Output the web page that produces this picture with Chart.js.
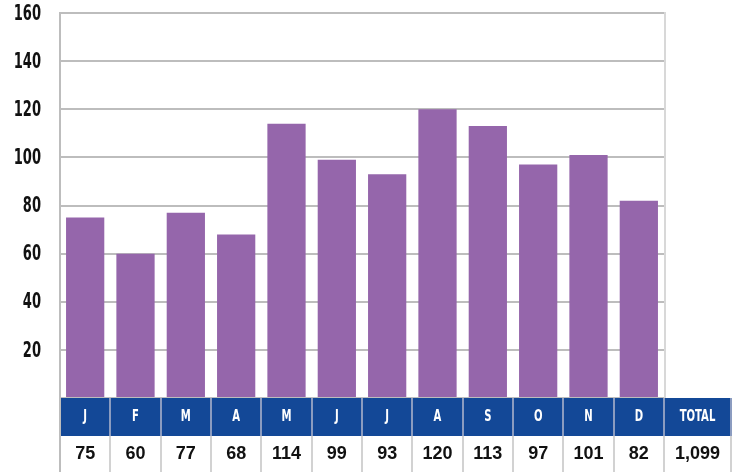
<!DOCTYPE html>
<html>
<head>
<meta charset="utf-8">
<script src="https://cdn.jsdelivr.net/npm/chart.js@4"></script>
<style>
  html, body { margin: 0; padding: 0; background: #fff; }
  #wrap { width: 733px; height: 472px; }
</style>
</head>
<body>
<div id="wrap"><canvas id="c" width="733" height="472"></canvas></div>
<script>
// Monthly counts
const months = ['J', 'F', 'M', 'A', 'M', 'J', 'J', 'A', 'S', 'O', 'N', 'D'];
const counts = [75, 60, 77, 68, 114, 99, 93, 120, 113, 97, 101, 82];
const totalLabel = 'TOTAL';
const yTicks = [20, 40, 60, 80, 100, 120, 140, 160];

const BAR = '#9566ab';
const BAND = '#134897';
const BAND_SEP = '#8b9cc0';
const ROW_SEP = '#d2d2d2';
const GRID = '#bdbdbd';
const NARROW = '"DejaVu Sans", sans-serif';

// Text squeezed horizontally to get a tall, compressed face
function narrowText(ctx, text, x, y, align, sx) {
  ctx.save();
  ctx.translate(x, y);
  ctx.scale(sx, 1);
  ctx.textAlign = align;
  ctx.textBaseline = 'middle';
  ctx.fillText(text, 0, 0);
  ctx.restore();
}

// y-axis labels placed with the value scale
const yLabelPlugin = {
  id: 'yLabels',
  afterDraw(chart) {
    const ctx = chart.ctx;
    const y = chart.scales.y;
    ctx.save();
    ctx.fillStyle = '#111111';
    ctx.font = 'bold condensed 22px ' + NARROW;
    yTicks.forEach(v => {
      narrowText(ctx, String(v), chart.chartArea.left - 19, y.getPixelForValue(v) + 1, 'right', 0.66);
    });
    ctx.restore();
  }
};

// Month band + value row under the plot, aligned to the category scale
const tablePlugin = {
  id: 'monthTable',
  afterDraw(chart) {
    const ctx = chart.ctx;
    const area = chart.chartArea;
    const x = chart.scales.x;
    const step = x.getPixelForValue(1) - x.getPixelForValue(0);
    const bandTop = area.bottom;
    const bandH = 38;
    const rowTop = bandTop + bandH;
    const rowBottom = chart.height;
    const totalW = 67;
    const right = area.right + totalW;

    ctx.save();
    // blue band
    ctx.fillStyle = BAND;
    ctx.fillRect(area.left, bandTop, right - area.left, bandH);

    const bounds = [];
    for (let i = 0; i < months.length; i++) {
      bounds.push(x.getPixelForValue(i) - step / 2);
    }
    bounds.push(area.right);
    bounds.push(right);

    // separators
    ctx.lineWidth = 2;
    for (let i = 1; i < bounds.length; i++) {
      const bx = Math.round(bounds[i]);
      ctx.strokeStyle = BAND_SEP;
      ctx.beginPath(); ctx.moveTo(bx, bandTop); ctx.lineTo(bx, rowTop); ctx.stroke();
      ctx.strokeStyle = ROW_SEP;
      ctx.beginPath(); ctx.moveTo(bx, rowTop); ctx.lineTo(bx, rowBottom); ctx.stroke();
    }
    // left border down through the table
    ctx.strokeStyle = GRID;
    ctx.beginPath(); ctx.moveTo(area.left, bandTop); ctx.lineTo(area.left, rowBottom); ctx.stroke();

    // labels
    const total = counts.reduce((a, b) => a + b, 0);
    for (let i = 0; i <= months.length; i++) {
      const cx = (bounds[i] + bounds[i + 1]) / 2;
      ctx.fillStyle = '#ffffff';
      ctx.font = 'bold condensed 16px ' + NARROW;
      narrowText(ctx, i < months.length ? months[i] : totalLabel, cx, bandTop + bandH / 2, 'center', 0.7);
      ctx.fillStyle = '#111111';
      ctx.font = 'bold 18px "Liberation Sans", Arial, sans-serif';
      ctx.textAlign = 'center';
      ctx.textBaseline = 'middle';
      const v = i < months.length ? counts[i] : total;
      ctx.fillText(v.toLocaleString('en-US'), cx, rowTop + 18);
    }
    ctx.restore();
  },
  beforeDatasetsDraw(chart) {
    // light right border of the plot
    const ctx = chart.ctx;
    const a = chart.chartArea;
    ctx.save();
    ctx.strokeStyle = '#d8d8d8';
    ctx.lineWidth = 2;
    ctx.beginPath(); ctx.moveTo(a.right + 1, a.top - 1); ctx.lineTo(a.right + 1, a.bottom); ctx.stroke();
    ctx.restore();
  }
};

new Chart(document.getElementById('c'), {
  type: 'bar',
  data: {
    labels: months,
    datasets: [{
      data: counts,
      backgroundColor: BAR,
      borderWidth: 0,
      barPercentage: 0.76,
      categoryPercentage: 1.0
    }]
  },
  options: {
    responsive: false,
    animation: false,
    layout: { padding: { top: 13, right: 69, bottom: 74, left: 0 } },
    plugins: { legend: { display: false }, tooltip: { enabled: false } },
    scales: {
      x: { display: false },
      y: {
        min: 0,
        max: 160,
        afterFit(scale) { scale.width = 60; scale.paddingTop = 0; scale.paddingBottom = 0; },
        afterBuildTicks(scale) { scale.ticks = [0].concat(yTicks).map(v => ({ value: v })); },
        ticks: { display: false },
        grid: { color: GRID, lineWidth: 2, drawTicks: false },
        border: { color: GRID, width: 2 }
      }
    }
  },
  plugins: [tablePlugin, yLabelPlugin]
});
</script>
</body>
</html>
